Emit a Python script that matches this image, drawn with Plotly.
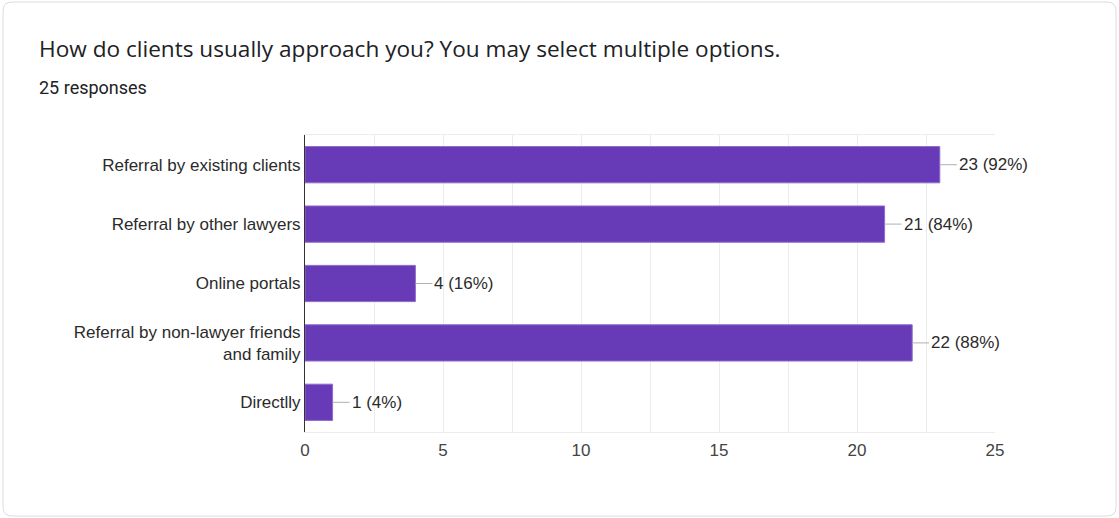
import plotly.graph_objects as go

title = "How do clients usually approach you? You may select multiple options."
total_responses = 25
categories = [
    "Referral by existing clients",
    "Referral by other lawyers",
    "Online portals",
    "Referral by non-lawyer friends<br>and family",
    "Directlly",
]
counts = [23, 21, 4, 22, 1]
x_ticks = [0, 5, 10, 15, 20, 25]

W, H = 1119, 518
ML, MR, MT, MB = 305, 124, 135, 86
PW, PH = W - ML - MR, H - MT - MB

BAR = "#673ab7"
TEXT = "#2b2b2b"
LABEL_FONT = "Liberation Sans, Arial, sans-serif"

fig = go.Figure(
    go.Bar(
        x=counts,
        y=categories,
        orientation="h",
        marker=dict(color=BAR, line=dict(color="#8e6cc9", width=1)),
        hoverinfo="skip",
    )
)

# value labels with a short grey leader from the bar end
for cat, n in zip(categories, counts):
    pct = round(100 * n / total_responses)
    fig.add_annotation(
        x=n, y=cat, xref="x", yref="y",
        text=f"{n} ({pct}%)",
        showarrow=True, arrowhead=0, arrowwidth=1, arrowcolor="#b0b0b0",
        ax=17, ay=0, standoff=0, startstandoff=0,
        xanchor="left", yanchor="middle",
        font=dict(family=LABEL_FONT, size=17, color=TEXT),
    )

# card outline with rounded corners (paper coords extend beyond the plot area)
def px_x(p):
    return (p - ML) / PW

def px_y(p):
    return 1 - (p - MT) / PH

x0, x1, y0, y1, r = 3, 1116, 2, 516, 9
path = (
    f"M {px_x(x0 + r)} {px_y(y0)} L {px_x(x1 - r)} {px_y(y0)} "
    f"Q {px_x(x1)} {px_y(y0)} {px_x(x1)} {px_y(y0 + r)} "
    f"L {px_x(x1)} {px_y(y1 - r)} Q {px_x(x1)} {px_y(y1)} {px_x(x1 - r)} {px_y(y1)} "
    f"L {px_x(x0 + r)} {px_y(y1)} Q {px_x(x0)} {px_y(y1)} {px_x(x0)} {px_y(y1 - r)} "
    f"L {px_x(x0)} {px_y(y0 + r)} Q {px_x(x0)} {px_y(y0)} {px_x(x0 + r)} {px_y(y0)} Z"
)
fig.add_shape(type="path", path=path, xref="paper", yref="paper",
              line=dict(color="#dadce0", width=1), fillcolor="rgba(0,0,0,0)", layer="below")

fig.add_annotation(
    text=title, xref="paper", yref="paper",
    x=px_x(37), y=px_y(48), xanchor="left", yanchor="middle", showarrow=False,
    font=dict(family="Open Sans, Roboto, sans-serif", size=22.6, color="#202124"),
)
fig.add_annotation(
    text=f"{total_responses} responses", xref="paper", yref="paper",
    x=px_x(37), y=px_y(88), xanchor="left", yanchor="middle", showarrow=False,
    font=dict(family="Roboto, sans-serif", size=18, color="#202124"),
)

fig.update_layout(
    width=W, height=H,
    margin=dict(l=ML, r=MR, t=MT, b=MB),
    paper_bgcolor="white", plot_bgcolor="white",
    bargap=0.39,
    showlegend=False,
    xaxis=dict(
        range=[0, 25], tickvals=x_ticks, showgrid=True, gridcolor="#ececec",
        minor=dict(dtick=2.5, tick0=0, showgrid=True, gridcolor="#ececec"),
        showline=True, linecolor="#ececec", mirror=True, zeroline=False,
        ticks="", ticklabelstandoff=3,
        tickfont=dict(family=LABEL_FONT, size=17, color="#444444"),
        fixedrange=True,
    ),
    yaxis=dict(
        categoryorder="array", categoryarray=categories, autorange="reversed",
        showline=True, linecolor="#333333", linewidth=1, showgrid=False, zeroline=False,
        ticks="", ticklabelstandoff=0,
        tickfont=dict(family=LABEL_FONT, size=17, color=TEXT),
        fixedrange=True,
    ),
)

fig.write_html("out.html", config={"displayModeBar": False})
